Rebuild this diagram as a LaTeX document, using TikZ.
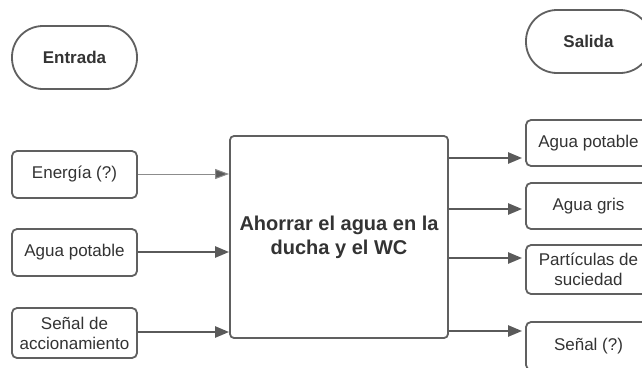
\documentclass[tikz,border=0pt]{standalone}
\usepackage{fontspec}
\setmainfont{Liberation Sans}
\usetikzlibrary{arrows.meta}
\definecolor{bd}{HTML}{606060}
\definecolor{txt}{HTML}{333333}
\definecolor{ar}{HTML}{5A5A5A}
\definecolor{arl}{HTML}{8C8C8C}
\begin{document}
\begin{tikzpicture}[x=1pt,y=-1pt,
  box/.style={draw=bd, line width=1.8pt, rounded corners=5pt, inner sep=0pt,
    font=\fontsize{17}{20}\selectfont, text=txt, align=center, minimum width=125pt},
  term/.style={draw=bd, line width=1.8pt, rounded corners=31pt, inner sep=0pt,
    font=\bfseries\fontsize{17}{20}\selectfont, text=txt, minimum width=125pt, minimum height=63pt},
  mainbox/.style={draw=bd, line width=1.8pt, rounded corners=4pt, inner sep=0pt,
    font=\bfseries\fontsize{20}{24}\selectfont, text=txt, align=center,
    minimum width=218pt, minimum height=202pt},
  arr/.style={draw=ar, line width=2.4pt, -{Triangle[length=14pt,width=11pt]}},
  arrl/.style={draw=arl, line width=1pt, -{Triangle[length=14pt,width=10pt,fill=ar]}}
]
\useasboundingbox (0,0) rectangle (642,367);
\clip (0,0) rectangle (642,367);
\fill[white] (0,0) rectangle (642,367);

\node[term] (entrada) at (74.5,57.5) {Entrada};
\node[term] (salida) at (588.5,41.5) {Salida};

\node[box, minimum height=47pt] (e1) at (74.5,174.5) {Energía (?)};
\node[box, minimum height=47pt] (e2) at (74.5,252.5) {Agua potable};
\node[box, minimum height=50pt] (e3) at (74.5,333) {Señal de\\accionamiento};

\node[mainbox] (main) at (339,237) {Ahorrar el agua en la\\ducha y el WC};

\node[box, minimum height=46pt] (s1) at (588.5,143) {Agua potable};
\node[box, minimum height=46pt] (s2) at (588.5,206) {Agua gris};
\node[box, minimum height=49pt] (s3) at (588.5,269.5) {Partículas de\\suciedad};
\node[box, minimum height=48pt] (s4) at (588.5,346) {Señal (?)};

\coordinate (y1) at (0,158);
\coordinate (y2) at (0,209);
\coordinate (y3) at (0,258);
\coordinate (y4) at (0,331);
\coordinate (ya) at (0,174);
\coordinate (yb) at (0,252);
\coordinate (yc) at (0,332);

\draw[arrl] (e1.east |- ya) -- (main.west |- ya);
\draw[arr] (e2.east |- yb) -- (main.west |- yb);
\draw[arr] (e3.east |- yc) -- (main.west |- yc);

\draw[arr, shorten >=3pt] (main.east |- y1) -- (s1.west |- y1);
\draw[arr, shorten >=3pt] (main.east |- y2) -- (s2.west |- y2);
\draw[arr, shorten >=3pt] (main.east |- y3) -- (s3.west |- y3);
\draw[arr, shorten >=3pt] (main.east |- y4) -- (s4.west |- y4);
\end{tikzpicture}
\end{document}
